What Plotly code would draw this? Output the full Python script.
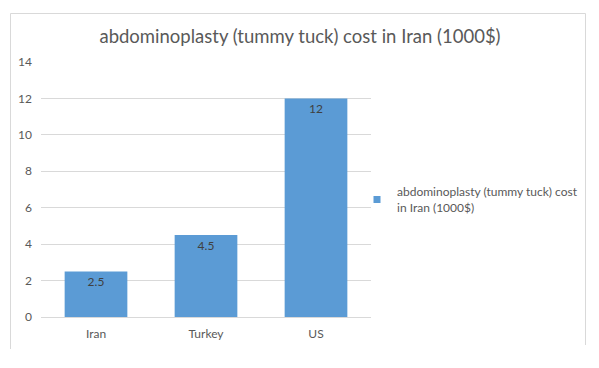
import plotly.graph_objects as go

categories = ["Iran", "Turkey", "US"]
values = [2.5, 4.5, 12]
value_labels = ["2.5", "4.5", "12"]
series_name = "abdominoplasty (tummy tuck) cost<br>in Iran (1000$)"
title_text = "abdominoplasty (tummy tuck) cost in Iran (1000$)"
y_ticks = [0, 2, 4, 6, 8, 10, 12, 14]

FONT = "Lato, 'Open Sans', sans-serif"
W, H = 599, 368
L, R, T, B = 41, 228, 62, 51
pw = W - L - R
ph = H - T - B

def px(x):
    return (x - L) / pw

def py(y):
    return (H - B - y) / ph

fig = go.Figure()
fig.add_trace(go.Bar(
    x=categories, y=values, name=series_name,
    marker=dict(color="#5b9bd5", line=dict(width=0)),
    text=value_labels, textposition="inside", insidetextanchor="end",
    textfont=dict(family=FONT, size=12, color="#404040"),
    textangle=0, showlegend=False,
))
# legend entry with a small square marker, as in the reference
fig.add_trace(go.Scatter(
    x=[None], y=[None], mode="markers", name=series_name,
    marker=dict(symbol="square", size=7, color="#5b9bd5"),
    showlegend=True, hoverinfo="skip",
))

fig.update_layout(
    width=W, height=H,
    margin=dict(l=L, r=R, t=T, b=B),
    paper_bgcolor="white", plot_bgcolor="white",
    bargap=0.43,
    title=dict(text=title_text, x=300 / W, xanchor="center", xref="container",
               y=1 - 37 / H, yanchor="middle", yref="container",
               font=dict(family=FONT, size=18.5, color="#595959")),
    font=dict(family=FONT, size=12, color="#595959"),
    xaxis=dict(showgrid=False, showline=True, linecolor="#d9d9d9", linewidth=1,
               ticks="", ticklabelstandoff=6,
               tickfont=dict(family=FONT, size=12, color="#595959")),
    yaxis=dict(range=[0, 14], tickvals=y_ticks, showgrid=True, gridcolor="#d9d9d9",
               gridwidth=1, zeroline=False, showline=False, ticks="",
               ticklabelstandoff=8,
               tickfont=dict(family=FONT, size=12, color="#595959")),
    legend=dict(x=px(357), y=py(200), xanchor="left", yanchor="middle",
                font=dict(family=FONT, size=12, color="#595959"),
                bgcolor="rgba(0,0,0,0)", itemwidth=30, tracegroupgap=0),
    shapes=[dict(type="path", xref="paper", yref="paper",
                 path=f"M {px(10.5)},{py(349)} L {px(10.5)},{py(13.5)} L {px(585.5)},{py(13.5)} L {px(585.5)},{py(345)}",
                 line=dict(color="#d9d9d9", width=1), layer="below")],
)

fig.write_html("out.html", config={"displayModeBar": False},
               post_script="document.body.style.margin='0';document.body.style.overflow='hidden';")
